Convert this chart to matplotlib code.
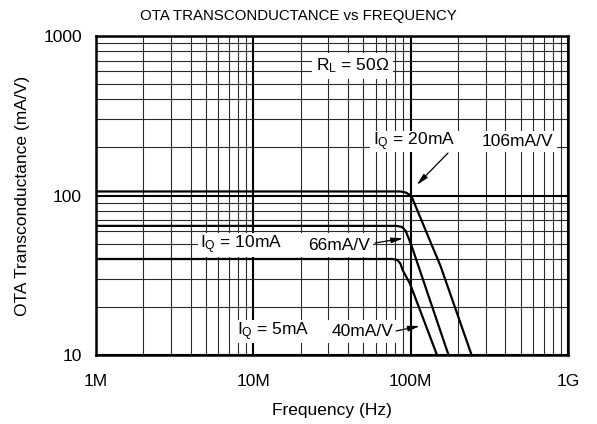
import matplotlib
matplotlib.use("Agg")
import matplotlib.pyplot as plt
from matplotlib.patches import Rectangle
from matplotlib.ticker import LogLocator, NullFormatter

plt.rcParams['font.family'] = ['Liberation Sans', 'DejaVu Sans']
plt.rcParams['mathtext.default'] = 'regular'

# Data (frequency in Hz, transconductance in mA/V)
f_20mA = [1e6, 86e6, 93e6, 97e6, 101.6e6, 155e6, 244e6]
g_20mA = [106, 106, 104.5, 102, 98, 36, 10]
f_10mA = [1e6, 81e6, 88e6, 93e6, 101.6e6, 174e6]
g_10mA = [64.5, 64.5, 63.5, 60, 48, 10]
f_5mA = [1e6, 76e6, 82e6, 86e6, 89e6, 99e6, 147e6]
g_5mA = [40, 40, 39.5, 37.5, 34, 28, 10]

x_ticks = [1e6, 1e7, 1e8, 1e9]
x_labels = ["1M", "10M", "100M", "1G"]
y_ticks = [10, 100, 1000]
y_labels = ["10", "100", "1000"]

fig = plt.figure(figsize=(5.97, 4.24), dpi=100)
ax = fig.add_axes([96/597, 1-355/424, 472/597, 319/424])
ax.set_xscale('log')
ax.set_yscale('log')
ax.set_xlim(1e6, 1e9)
ax.set_ylim(10, 1000)

ax.xaxis.set_minor_locator(LogLocator(base=10, subs=range(2, 10)))
ax.yaxis.set_minor_locator(LogLocator(base=10, subs=range(2, 10)))
ax.xaxis.set_minor_formatter(NullFormatter())
ax.yaxis.set_minor_formatter(NullFormatter())
ax.set_xticks(x_ticks)
ax.set_xticklabels(x_labels)
ax.set_yticks(y_ticks)
ax.set_yticklabels(y_labels)
ax.tick_params(which='both', length=0)
ax.tick_params(axis='x', pad=14, labelsize=12.5)
ax.tick_params(axis='y', pad=10, labelsize=12.5)

ax.grid(which='minor', color='#2a2a2a', linewidth=0.8, zorder=1)
ax.grid(which='major', color='black', linewidth=1.5, zorder=1)
ax.set_axisbelow(True)
for s in ax.spines.values():
    s.set_linewidth(1.8)
    s.set_zorder(6)

for fx, gy in [(f_20mA, g_20mA), (f_10mA, g_10mA), (f_5mA, g_5mA)]:
    ax.plot(fx, gy, color='black', linewidth=1.6, zorder=4, solid_joinstyle='round')

# white label boxes
boxes = [
    (0.4576, 0.8652, 0.6292 - 0.4576, 0.9467 - 0.8652),
    (0.5805, 0.6364, 0.9767 - 0.5805, 0.7022 - 0.6364),
    (0.2161, 0.3072, 0.5869 - 0.2161, 0.3824 - 0.3072),
    (0.2839, 0.0376, 0.6377 - 0.2839, 0.1097 - 0.0376),
]
for (bx, by, bw, bh) in boxes:
    ax.add_patch(Rectangle((bx, by), bw, bh, transform=ax.transAxes,
                           facecolor='white', edgecolor='none', zorder=3))

fs = 12.5
ax.text(0.5445, 0.906, "R$_L$ = 50Ω", transform=ax.transAxes, ha='center',
        va='center', fontsize=fs, zorder=5)
ax.text(0.5875, 0.6693, "I$_Q$ = 20mA", transform=ax.transAxes, ha='left',
        va='center', fontsize=fs, zorder=5)
ax.text(0.8171, 0.6693, "106mA/V", transform=ax.transAxes, ha='left',
        va='center', fontsize=fs, zorder=5)
ax.text(0.2203, 0.3448, "I$_Q$ = 10mA", transform=ax.transAxes, ha='left',
        va='center', fontsize=fs, zorder=5)
ax.text(0.4498, 0.3448, "66mA/V", transform=ax.transAxes, ha='left',
        va='center', fontsize=fs, zorder=5)
ax.text(0.2981, 0.0737, "I$_Q$ = 5mA", transform=ax.transAxes, ha='left',
        va='center', fontsize=fs, zorder=5)
ax.text(0.4993, 0.0737, "40mA/V", transform=ax.transAxes, ha='left',
        va='center', fontsize=fs, zorder=5)

arrows = [
    ((0.7458, 0.6332), (0.6794, 0.5329)),
    ((0.5911, 0.3511), (0.6511, 0.3658)),
    ((0.6356, 0.0752), (0.6864, 0.0909)),
]
for tail, head in arrows:
    ax.annotate("", xy=head, xytext=tail, xycoords='axes fraction',
                textcoords='axes fraction', zorder=5,
                arrowprops=dict(arrowstyle='-|>,head_length=0.7,head_width=0.16',
                                color='black', lw=0.9, shrinkA=0, shrinkB=0))

fig.text(0.5, 1 - 16/424, "OTA TRANSCONDUCTANCE vs FREQUENCY", ha='center',
         va='center', fontsize=10.8)
ax.set_xlabel("Frequency (Hz)", fontsize=12.5, va='center')
ax.xaxis.set_label_coords(0.5, (355 - 410) / 319)
ax.set_ylabel("OTA Transconductance (mA/V)", fontsize=12.5, va='center')
ax.yaxis.set_label_coords(-(96 - 23) / 472, 0.5)

fig.savefig("out.png", dpi=100)
